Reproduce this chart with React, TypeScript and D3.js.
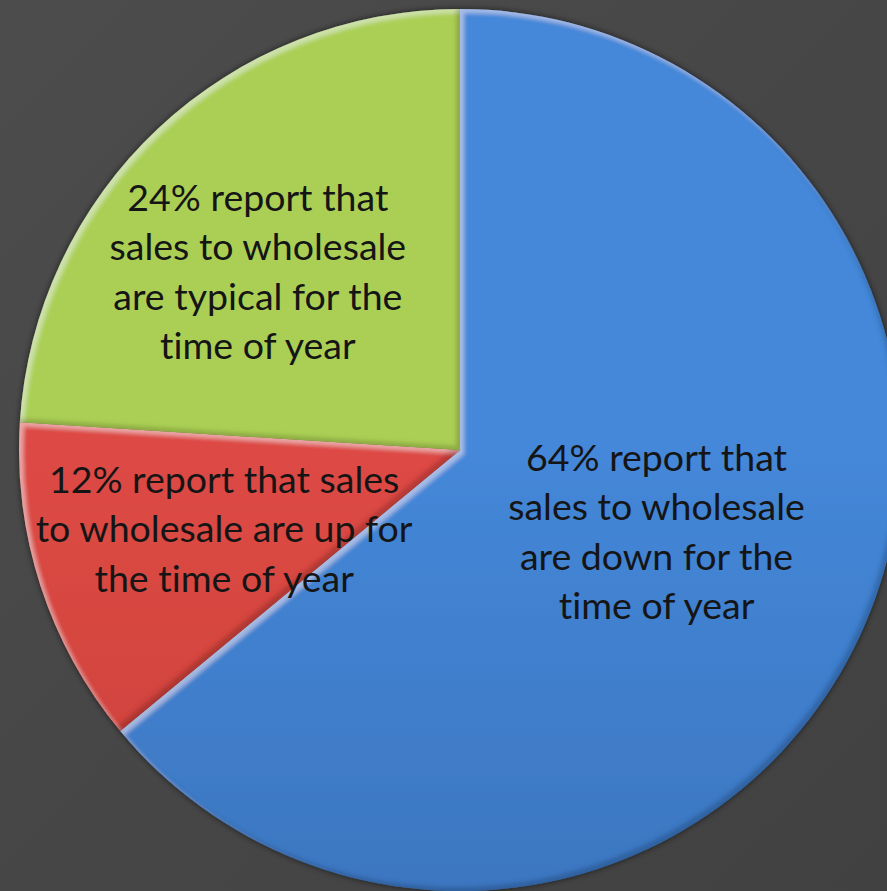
import React from "react";
import * as d3 from "d3";

const categories = ["Down", "Up", "Typical"];
const values = [64, 12, 24];
const labelLines = [
  ["64% report that", "sales to wholesale", "are down for the", "time of year"],
  ["12% report that sales", "to wholesale are up for", "the time of year"],
  ["24% report that", "sales to wholesale", "are typical for the", "time of year"],
];

const W = 887;
const H = 891;
const CX = 460;
const CY = 450;
const R = 441;
const colorsTop = ["#4487d8", "#dd4a45", "#abcf55"];
const colorsBottom = ["#3565a8", "#b8372f", "#8fae3f"];
// label layout: radius fraction + pixel nudge
const labelLayout = [
  { r: 0.48, dx: 5, dy: -10 },
  { r: 0.56, dx: -1, dy: 1 },
  { r: 0.61, dx: -18, dy: 16 },
];

export default function App() {
  const pie = d3
    .pie<number>()
    .sort(null)
    .value((d) => d)
    .startAngle(0)
    .endAngle(2 * Math.PI);
  const arcs = pie(values);
  const arc = d3.arc<d3.PieArcDatum<number>>().innerRadius(0).outerRadius(R);
  const lineH = 49.5;

  return (
    <svg
      width={W}
      height={H}
      style={{ position: "fixed", left: 0, top: 0, display: "block" }}
    >
      <defs>
        <linearGradient id="bg" x1="0" y1="0" x2="1" y2="1">
          <stop offset="0" stopColor="#4c4c4c" />
          <stop offset="1" stopColor="#414141" />
        </linearGradient>
        {categories.map((c, i) => (
          <linearGradient
            key={c}
            id={`g${i}`}
            gradientUnits="userSpaceOnUse"
            x1={0}
            y1={CY - R}
            x2={0}
            y2={CY + R}
          >
            <stop offset="0" stopColor={colorsTop[i]} />
            <stop offset="1" stopColor={colorsBottom[i]} />
          </linearGradient>
        ))}
        <filter id="bevel" x="-5%" y="-5%" width="110%" height="110%">
          <feGaussianBlur in="SourceAlpha" stdDeviation="2" result="b" />
          <feOffset in="b" dx="4" dy="4" result="o1" />
          <feComposite in="SourceAlpha" in2="o1" operator="arithmetic" k2="1" k3="-1" result="hl" />
          <feFlood floodColor="#ffffff" floodOpacity="0.35" />
          <feComposite in2="hl" operator="in" result="hlc" />
          <feOffset in="b" dx="-4" dy="-4" result="o2" />
          <feComposite in="SourceAlpha" in2="o2" operator="arithmetic" k2="1" k3="-1" result="sh" />
          <feFlood floodColor="#000000" floodOpacity="0.35" />
          <feComposite in2="sh" operator="in" result="shc" />
          <feMerge>
            <feMergeNode in="SourceGraphic" />
            <feMergeNode in="hlc" />
            <feMergeNode in="shc" />
          </feMerge>
        </filter>
        <filter id="shadow" x="-10%" y="-10%" width="120%" height="120%">
          <feDropShadow dx="0" dy="0" stdDeviation="3" floodColor="#000" floodOpacity="0.6" />
        </filter>
      </defs>
      <rect x={0} y={0} width={W} height={H} fill="url(#bg)" />
      <g transform={`translate(${CX},${CY})`}>
        <g filter="url(#shadow)">
          {arcs.map((a, i) => (
            <path key={categories[i]} d={arc(a) || ""} fill={`url(#g${i})`} filter="url(#bevel)" />
          ))}
        </g>
        {arcs.map((a, i) => {
          const L = labelLayout[i];
          const la = d3.arc<d3.PieArcDatum<number>>().innerRadius(R * L.r).outerRadius(R * L.r);
          const [x, y] = la.centroid(a);
          const lines = labelLines[i];
          const y0 = y + L.dy - ((lines.length - 1) * lineH) / 2;
          return (
            <text
              key={categories[i]}
              x={x + L.dx}
              y={y0}
              textAnchor="middle"
              fontFamily="Lato, 'Open Sans', sans-serif"
              fontSize={37.5}
              fill="#151515"
              dominantBaseline="central"
              style={{ fontVariantLigatures: "none" }}
            >
              {lines.map((t, j) => (
                <tspan key={j} x={x + L.dx} y={y0 + j * lineH}>
                  {t}
                </tspan>
              ))}
            </text>
          );
        })}
      </g>
    </svg>
  );
}
